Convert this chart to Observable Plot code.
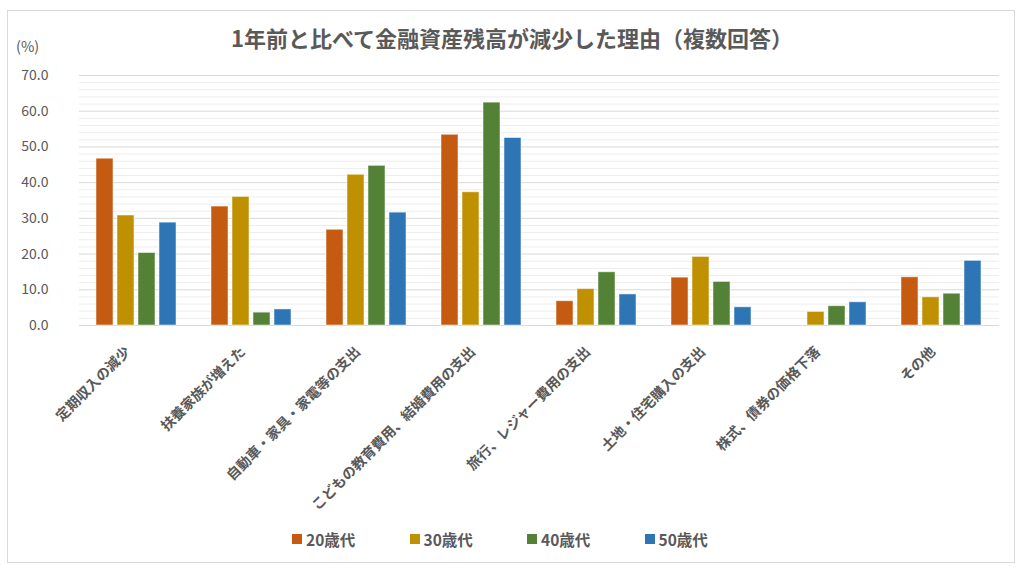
<!DOCTYPE html>
<html>
<head>
<meta charset="utf-8">
<script src="https://cdn.jsdelivr.net/npm/d3@7"></script>
<script src="https://cdn.jsdelivr.net/npm/@observablehq/plot@0.6"></script>
<style>
  html, body { margin: 0; padding: 0; background: #fff; }
  #wrap { position: relative; width: 1024px; height: 573px; overflow: hidden; font-family: "Noto Sans CJK JP", sans-serif; color: #595959; }
  #border { position: absolute; left: 7px; top: 10px; width: 1008px; height: 553px; border: 1px solid #d9d9d9; box-sizing: border-box; }
  #title { position: absolute; left: 0; top: 22px; width: 1024px; text-align: center; font-size: 22px; font-weight: bold; line-height: 30px; }
  #unit { position: absolute; left: 16px; top: 36px; font-size: 14.5px; line-height: 20px; }
  #chart { position: absolute; left: 0; top: 0; }
  #legend { position: absolute; left: 292px; top: 529px; display: flex; }
  .item { width: 117.5px; display: flex; align-items: center; font-size: 15.5px; font-weight: bold; line-height: 20px; }
  .sw { width: 10px; height: 10px; margin-right: 4px; }
</style>
</head>
<body>
<div id="wrap">
  <div id="border"></div>
  <div id="chart"></div>
  <div id="title">1年前と比べて金融資産残高が減少した理由（複数回答）</div>
  <div id="unit">(%)</div>
  <div id="legend"></div>
</div>
<script>
const categories = ["定期収入の減少", "扶養家族が増えた", "自動車・家具・家電等の支出", "こどもの教育費用、結婚費用の支出", "旅行、レジャー費用の支出", "土地・住宅購入の支出", "株式、債券の価格下落", "その他"];
const series = ["20歳代", "30歳代", "40歳代", "50歳代"];
const v20 = [46.7, 33.3, 26.8, 53.4, 6.8, 13.4, null, 13.5];
const v30 = [30.8, 36.0, 42.2, 37.3, 10.2, 19.2, 3.8, 7.9];
const v40 = [20.3, 3.6, 44.7, 62.4, 14.9, 12.2, 5.4, 8.9];
const v50 = [28.8, 4.5, 31.6, 52.5, 8.7, 5.1, 6.5, 18.1];
const yTicks = [0, 10, 20, 30, 40, 50, 60, 70];
const yMinorTicks = [2, 4, 6, 8, 12, 14, 16, 18, 22, 24, 26, 28, 32, 34, 36, 38, 42, 44, 46, 48, 52, 54, 56, 58, 62, 64, 66, 68];
const colors = ["#C55A11", "#BF9000", "#538135", "#2E75B6"];

const valuesBySeries = [v20, v30, v40, v50];
const data = [];
categories.forEach((c, i) => {
  series.forEach((s, j) => {
    const v = valuesBySeries[j][i];
    if (v != null) data.push({category: c, series: s, value: v});
  });
});

const chart = Plot.plot({
  width: 1024,
  height: 500,
  marginLeft: 76,
  marginRight: 22,
  marginTop: 75,
  marginBottom: 175,
  style: {fontFamily: "'Noto Sans CJK JP', sans-serif", color: "#595959", background: "transparent", overflow: "visible"},
  fx: {domain: categories, padding: 0, label: null},
  x: {domain: series, paddingInner: 0.18, paddingOuter: 0.82, axis: null},
  y: {domain: [0, 70], label: null, axis: null},
  color: {domain: series, range: colors},
  marks: [
    Plot.ruleY(yMinorTicks, {stroke: "#ededed", strokeWidth: 1}),
    Plot.ruleY(yTicks, {stroke: "#d9d9d9", strokeWidth: 1}),
    Plot.barY(data, {fx: "category", x: "series", y: "value", fill: "series", stroke: "white", strokeOpacity: 0.5, strokeWidth: 1}),
    Plot.axisY({ticks: yTicks, tickFormat: d => d.toFixed(1), tickSize: 0, tickPadding: 31, fontSize: 14, fill: "#595959", label: null}),
    Plot.axisFx({anchor: "bottom", tickRotate: -45, tickSize: 0, tickPadding: 12, dx: -9, dy: 12, fontSize: 14, fontWeight: "bold", fill: "#595959", label: null})
  ]
});
document.getElementById("chart").appendChild(chart);

const legend = document.getElementById("legend");
series.forEach((s, i) => {
  const item = document.createElement("div");
  item.className = "item";
  const sw = document.createElement("span");
  sw.className = "sw";
  sw.style.background = colors[i];
  const t = document.createElement("span");
  t.textContent = s;
  item.appendChild(sw);
  item.appendChild(t);
  legend.appendChild(item);
});
</script>
</body>
</html>
